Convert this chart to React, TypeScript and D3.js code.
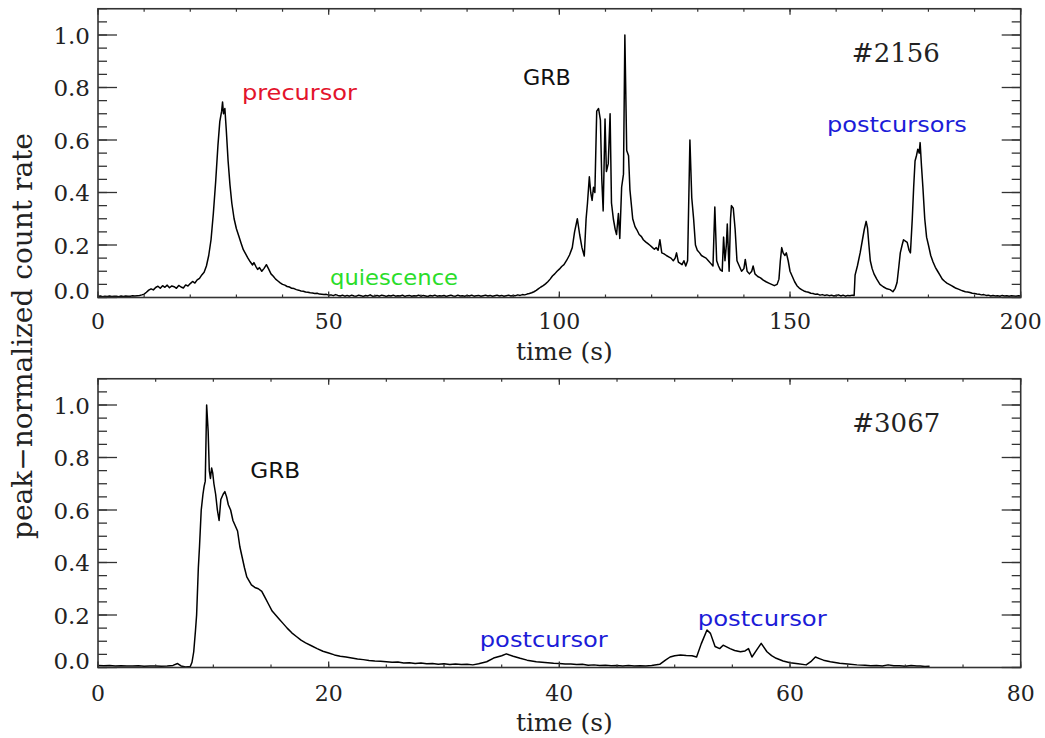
import React from "react";
import * as d3 from "d3";

// ---- Data: GRB #2156 (time s, peak-normalized count rate) ----
const burst2156: [number, number][] = [
  [0,0.004],[0.5,0.006],[1,0.003],[1.5,0.005],[2,0.004],[2.5,0.006],[3,0.004],[3.5,0.005],[4,0.005],[4.5,0.003],
  [5,0.006],[5.5,0.004],[6,0.006],[6.5,0.005],[7,0.005],[7.5,0.007],[8,0.006],[8.5,0.007],[9,0.008],[9.5,0.01],
  [10,0.013],[10.5,0.02],[11,0.028],[11.5,0.033],[12,0.029],[12.5,0.038],[13,0.043],[13.5,0.035],[14,0.045],[14.5,0.039],
  [15,0.047],[15.5,0.037],[16,0.044],[16.5,0.041],[17,0.035],[17.5,0.046],[18,0.04],[18.5,0.036],[19,0.048],[19.5,0.044],
  [20,0.053],[20.5,0.061],[21,0.055],[21.5,0.067],[22,0.073],[22.5,0.086],[23,0.096],[23.5,0.12],[24,0.16],[24.5,0.22],
  [25,0.32],[25.5,0.44],[26,0.58],[26.4,0.67],[26.8,0.71],[27,0.745],[27.2,0.7],[27.5,0.72],[27.8,0.64],[28.2,0.52],
  [28.6,0.43],[29,0.36],[29.5,0.3],[30,0.262],[30.5,0.235],[31,0.208],[31.5,0.182],[32,0.166],[32.5,0.15],[33,0.136],
  [33.5,0.124],[33.8,0.133],[34.2,0.119],[34.6,0.107],[35,0.114],[35.5,0.1],[36,0.111],[36.5,0.125],[37,0.108],[37.5,0.09],
  [38,0.081],[38.5,0.07],[39,0.063],[39.5,0.056],[40,0.05],[40.5,0.047],[41,0.042],[41.5,0.04],[42,0.035],[42.5,0.034],
  [43,0.03],[43.5,0.028],[44,0.025],[44.5,0.024],[45,0.021],[45.5,0.02],[46,0.018],[46.5,0.017],[47,0.015],[47.5,0.016],
  [48,0.013],[48.5,0.012],[49,0.011],[49.5,0.012],[50,0.009],[50.5,0.01],[51,0.007],[51.5,0.011],[52,0.008],[52.5,0.006],
  [53,0.009],[53.5,0.005],[54,0.008],[54.5,0.005],[55,0.009],[55.5,0.006],[56,0.005],[56.5,0.009],[57,0.007],[57.5,0.004],
  [58,0.008],[58.5,0.006],[59,0.01],[59.5,0.005],[60,0.006],[60.5,0.008],[61,0.005],[61.5,0.009],[62,0.007],[62.5,0.004],
  [63,0.008],[63.5,0.006],[64,0.009],[64.5,0.005],[65,0.007],[65.5,0.006],[66,0.009],[66.5,0.004],[67,0.007],[67.5,0.008],
  [68,0.005],[68.5,0.007],[69,0.006],[69.5,0.009],[70,0.005],[70.5,0.008],[71,0.006],[71.5,0.004],[72,0.008],[72.5,0.006],
  [73,0.009],[73.5,0.005],[74,0.007],[74.5,0.006],[75,0.008],[75.5,0.004],[76,0.007],[76.5,0.009],[77,0.006],[77.5,0.005],
  [78,0.009],[78.5,0.006],[79,0.007],[79.5,0.005],[80,0.008],[80.5,0.006],[81,0.009],[81.5,0.005],[82,0.007],[82.5,0.008],
  [83,0.005],[83.5,0.007],[84,0.009],[84.5,0.006],[85,0.008],[85.5,0.005],[86,0.007],[86.5,0.009],[87,0.006],[87.5,0.008],
  [88,0.005],[88.5,0.007],[89,0.009],[89.5,0.006],[90,0.008],[90.5,0.007],[91,0.01],[91.5,0.008],[92,0.011],[92.5,0.01],
  [93,0.013],[93.5,0.015],[94,0.018],[94.5,0.022],[95,0.027],[95.5,0.034],[96,0.04],[96.5,0.045],[97,0.052],[97.5,0.06],
  [98,0.07],[98.5,0.082],[99,0.09],[99.5,0.1],[100,0.108],[100.5,0.118],[101,0.125],[101.6,0.142],[102.2,0.162],[102.8,0.19],
  [103.3,0.25],[103.9,0.3],[104.4,0.24],[104.9,0.19],[105.4,0.158],[105.8,0.3],[106.1,0.36],[106.5,0.46],[106.8,0.4],[107.1,0.37],
  [107.4,0.42],[107.7,0.4],[108.1,0.71],[108.5,0.72],[108.9,0.676],[109.2,0.45],[109.5,0.33],[109.9,0.68],[110.2,0.48],[110.6,0.51],
  [111,0.7],[111.3,0.36],[111.7,0.3],[112.1,0.26],[112.4,0.24],[112.8,0.32],[113.1,0.225],[113.5,0.42],[113.9,0.47],[114.2,1.0],
  [114.6,0.56],[115,0.54],[115.3,0.41],[115.9,0.3],[116.4,0.27],[116.8,0.258],[117.3,0.24],[117.8,0.232],[118.2,0.22],[118.7,0.212],
  [119.2,0.205],[119.7,0.198],[120.2,0.19],[120.6,0.184],[121,0.19],[121.4,0.18],[121.8,0.22],[122.2,0.17],[122.7,0.166],[123.2,0.16],
  [123.7,0.155],[124.2,0.15],[124.7,0.14],[125.1,0.15],[125.4,0.17],[125.8,0.135],[126.2,0.13],[126.6,0.125],[127,0.14],[127.4,0.12],
  [127.8,0.14],[128.3,0.6],[128.7,0.38],[129.1,0.3],[129.5,0.2],[129.9,0.18],[130.4,0.17],[130.8,0.16],[131.3,0.155],[131.8,0.15],
  [132.3,0.14],[132.8,0.13],[133.3,0.12],[133.7,0.345],[134.1,0.14],[134.5,0.12],[134.9,0.105],[135.3,0.1],[135.6,0.23],[135.9,0.14],
  [136.2,0.2],[136.4,0.28],[136.8,0.1],[137.1,0.3],[137.3,0.35],[137.7,0.34],[138.1,0.26],[138.5,0.14],[139,0.12],[139.5,0.1],
  [140,0.11],[140.3,0.145],[140.7,0.1],[141.2,0.09],[141.7,0.1],[142,0.12],[142.4,0.09],[143,0.08],[143.6,0.075],[144.2,0.066],
  [144.8,0.06],[145.4,0.055],[146,0.05],[146.6,0.045],[147.2,0.05],[147.6,0.07],[147.9,0.14],[148.2,0.19],[148.5,0.17],[148.9,0.16],
  [149.2,0.17],[149.6,0.14],[150,0.1],[150.5,0.08],[151,0.06],[151.5,0.045],[152,0.036],[152.5,0.03],[153,0.025],[153.5,0.022],
  [154,0.02],[154.5,0.016],[155,0.015],[155.5,0.012],[156,0.013],[156.5,0.009],[157,0.011],[157.5,0.008],[158,0.01],[158.5,0.007],
  [159,0.009],[159.5,0.006],[160,0.008],[160.5,0.01],[161,0.006],[161.5,0.009],[162,0.005],[162.5,0.008],[163,0.007],[163.5,0.009],
  [163.9,0.008],[164.1,0.085],[164.6,0.12],[165.2,0.17],[165.7,0.22],[166.1,0.26],[166.5,0.29],[166.8,0.264],[167.1,0.2],[167.4,0.14],
  [167.8,0.11],[168.2,0.09],[168.8,0.07],[169.5,0.05],[170.2,0.041],[171,0.033],[171.7,0.03],[172.3,0.022],[172.8,0.035],[173.2,0.057],
  [173.6,0.12],[173.9,0.17],[174.3,0.2],[174.6,0.22],[175,0.215],[175.4,0.21],[175.8,0.18],[176.1,0.17],[176.5,0.3],[176.8,0.42],
  [177.1,0.52],[177.4,0.54],[177.7,0.565],[178,0.55],[178.2,0.59],[178.5,0.5],[178.8,0.42],[179.2,0.3],[179.6,0.23],[180,0.2],
  [180.5,0.16],[181,0.135],[181.5,0.115],[182,0.1],[182.5,0.085],[183,0.07],[183.5,0.062],[184,0.055],[184.5,0.05],[185,0.045],
  [185.5,0.04],[186,0.035],[186.5,0.032],[187,0.028],[187.5,0.025],[188,0.022],[188.5,0.021],[189,0.019],[189.5,0.016],[190,0.015],
  [190.5,0.013],[191,0.012],[191.5,0.01],[192,0.011],[192.5,0.008],[193,0.009],[193.5,0.006],[194,0.008],[194.5,0.006],[195,0.007],
  [195.5,0.005],[196,0.008],[196.5,0.006],[197,0.007],[197.5,0.005],[198,0.007],[198.5,0.006],[199,0.005],[199.5,0.007],[200,0.006],
];

// ---- Data: GRB #3067 ----
const burst3067: [number, number][] = [
  [0,0.008],[0.5,0.007],[1,0.008],[1.5,0.006],[2,0.007],[2.5,0.006],[3,0.006],[3.5,0.007],[4,0.005],[4.5,0.006],
  [5,0.006],[5.5,0.005],[6,0.006],[6.5,0.008],[6.9,0.015],[7.2,0.006],[7.6,0.002],[8,0.004],[8.15,0.02],[8.3,0.06],
  [8.45,0.14],[8.55,0.2],[8.7,0.38],[8.8,0.46],[8.95,0.6],[9.1,0.66],[9.2,0.69],[9.3,0.71],[9.42,1.0],[9.55,0.9],
  [9.65,0.75],[9.75,0.72],[9.85,0.76],[9.95,0.74],[10.05,0.7],[10.2,0.66],[10.35,0.6],[10.5,0.56],[10.65,0.64],[10.85,0.66],
  [11,0.67],[11.15,0.65],[11.3,0.62],[11.5,0.6],[11.7,0.56],[11.9,0.54],[12.1,0.52],[12.3,0.46],[12.5,0.42],[12.7,0.38],
  [12.9,0.345],[13.1,0.33],[13.3,0.315],[13.6,0.305],[13.9,0.3],[14.2,0.29],[14.5,0.265],[14.8,0.24],[15.1,0.215],[15.4,0.2],
  [15.7,0.185],[16,0.17],[16.4,0.15],[16.8,0.132],[17.2,0.118],[17.6,0.104],[18,0.094],[18.5,0.083],[19,0.072],[19.5,0.062],
  [20,0.055],[20.5,0.048],[21,0.043],[21.5,0.04],[22,0.036],[22.5,0.032],[23,0.03],[23.5,0.027],[24,0.025],[24.5,0.024],
  [25,0.022],[25.5,0.02],[26,0.021],[26.5,0.017],[27,0.018],[27.5,0.015],[28,0.017],[28.5,0.014],[29,0.015],[29.5,0.012],
  [30,0.014],[30.5,0.011],[31,0.013],[31.5,0.011],[32,0.012],[32.5,0.01],[33,0.014],[33.7,0.022],[34.3,0.036],[35,0.045],
  [35.4,0.052],[36,0.043],[36.6,0.035],[37.2,0.028],[38,0.022],[38.5,0.02],[39,0.018],[39.5,0.016],[40,0.015],[40.5,0.013],
  [41,0.013],[41.5,0.011],[42,0.012],[42.5,0.009],[43,0.01],[43.5,0.008],[44,0.009],[44.5,0.007],[45,0.008],[45.5,0.006],
  [46,0.008],[46.5,0.006],[47,0.007],[47.5,0.006],[48,0.008],[48.7,0.012],[49.2,0.028],[49.6,0.04],[50,0.045],[50.5,0.048],
  [51,0.046],[51.5,0.045],[51.9,0.04],[52.3,0.09],[52.8,0.143],[53.1,0.13],[53.5,0.08],[53.9,0.072],[54.2,0.085],[54.8,0.072],
  [55.2,0.065],[55.7,0.06],[56.1,0.063],[56.4,0.072],[56.7,0.04],[57.1,0.066],[57.5,0.092],[58,0.06],[58.4,0.045],[58.8,0.035],
  [59.4,0.025],[60,0.018],[60.7,0.014],[61.4,0.01],[61.8,0.022],[62.2,0.04],[62.6,0.033],[62.9,0.028],[63.5,0.022],[64.3,0.016],
  [65,0.013],[65.8,0.01],[66.5,0.009],[67,0.007],[67.5,0.008],[68,0.006],[68.5,0.01],[69,0.007],[69.5,0.007],[70,0.005],
  [70.5,0.008],[71,0.006],[71.3,0.006],[71.7,0.004],[72.1,0.005],
];

// ---- Axis ticks ----
const yMajorTicks = [0, 0.2, 0.4, 0.6, 0.8, 1.0];
const topXMajor = [0, 50, 100, 150, 200];
const bottomXMajor = [0, 20, 40, 60, 80];

// ---- Annotations (data coordinates) ----
type Note = { text: string; color: string; t: number; v: number; kind: "hand" | "id"; len?: number };
const topNotes: Note[] = [
  { text: "precursor", color: "#e3132b", t: 31.2, v: 0.752, kind: "hand", len: 115 },
  { text: "quiescence", color: "#2add2a", t: 50.3, v: 0.048, kind: "hand", len: 128 },
  { text: "GRB", color: "#111111", t: 92.1, v: 0.81, kind: "hand", len: 48 },
  { text: "postcursors", color: "#1c1cd8", t: 158.0, v: 0.63, kind: "hand", len: 140 },
  { text: "#2156", color: "#222222", t: 163.4, v: 0.897, kind: "id" },
];
const bottomNotes: Note[] = [
  { text: "GRB", color: "#111111", t: 13.2, v: 0.722, kind: "hand", len: 50 },
  { text: "postcursor", color: "#1c1cd8", t: 33.1, v: 0.078, kind: "hand", len: 128 },
  { text: "postcursor", color: "#1c1cd8", t: 52.0, v: 0.158, kind: "hand", len: 129 },
  { text: "#3067", color: "#222222", t: 65.4, v: 0.897, kind: "id" },
];

const SERIF = "'DejaVu Serif', 'Liberation Serif', serif";
const HAND = "'DejaVu Sans', 'Noto Sans', sans-serif";
const AXIS = "#333";

type PanelProps = {
  data: [number, number][];
  xMax: number;
  xMajor: number[];
  xMinorStep: number;
  top: number;
  bottom: number;
  tickBaseline: number;
  titleBaseline: number;
  notes: Note[];
};

function Panel({ data, xMax, xMajor, xMinorStep, top, bottom, tickBaseline, titleBaseline, notes }: PanelProps) {
  const left = 98;
  const right = 1020.7;
  const x = d3.scaleLinear().domain([0, xMax]).range([left, right]);
  const y = d3.scaleLinear().domain([0, 1.1]).range([bottom, top]);
  const line = d3.line<[number, number]>().x((d) => x(d[0])).y((d) => y(d[1]));
  const xMinor = d3.range(0, xMax + 1e-9, xMinorStep);
  const yMinor = d3.range(0, 1.1 + 1e-9, 0.05);

  return (
    <g>
      {/* data */}
      <path d={line(data) || ""} fill="none" stroke="#000" strokeWidth={1.5} strokeLinejoin="round" />
      {/* frame */}
      <rect x={left} y={top} width={right - left} height={bottom - top} fill="none" stroke={AXIS} strokeWidth={1.6} />
      {/* y ticks */}
      {yMinor.map((v, i) => (
        <g key={"ym" + i}>
          <line x1={left} x2={left + 9} y1={y(v)} y2={y(v)} stroke={AXIS} strokeWidth={1.3} />
          <line x1={right} x2={right - 9} y1={y(v)} y2={y(v)} stroke={AXIS} strokeWidth={1.3} />
        </g>
      ))}
      {yMajorTicks.map((v) => (
        <g key={"yM" + v}>
          <line x1={left} x2={left + 19} y1={y(v)} y2={y(v)} stroke={AXIS} strokeWidth={1.3} />
          <line x1={right} x2={right - 19} y1={y(v)} y2={y(v)} stroke={AXIS} strokeWidth={1.3} />
          <text
            x={90}
            y={Math.min(y(v), bottom - 7.5) + 8.5}
            textAnchor="end"
            fontFamily={SERIF}
            fontSize={23}
            fill="#222"
          >
            {d3.format(".1f")(v)}
          </text>
        </g>
      ))}
      {/* x ticks */}
      {xMinor.map((t, i) => (
        <g key={"xm" + i}>
          <line x1={x(t)} x2={x(t)} y1={bottom} y2={bottom - 3} stroke={AXIS} strokeWidth={1.2} />
          <line x1={x(t)} x2={x(t)} y1={top} y2={top + 3} stroke={AXIS} strokeWidth={1.2} />
        </g>
      ))}
      {xMajor.map((t) => (
        <g key={"xM" + t}>
          <line x1={x(t)} x2={x(t)} y1={bottom} y2={bottom - 6} stroke={AXIS} strokeWidth={1.3} />
          <line x1={x(t)} x2={x(t)} y1={top} y2={top + 6} stroke={AXIS} strokeWidth={1.3} />
          <text x={x(t)} y={tickBaseline} textAnchor="middle" fontFamily={SERIF} fontSize={22} fill="#222">
            {t}
          </text>
        </g>
      ))}
      <text x={(left + right) / 2 + 5} y={titleBaseline} textAnchor="middle" fontFamily={SERIF} fontSize={25} fill="#222">
        time (s)
      </text>
      {/* annotations */}
      {notes.map((n, i) =>
        n.kind === "id" ? (
          <text key={"n" + i} x={x(n.t)} y={y(n.v)} fontFamily={SERIF} fontSize={26} fill={n.color}>
            {n.text}
          </text>
        ) : (
          <text
            key={"n" + i}
            x={x(n.t)}
            y={y(n.v)}
            fontFamily={HAND}
            fontSize={21}
            fill={n.color}
            textLength={n.len}
            lengthAdjust="spacingAndGlyphs"
          >
            {n.text}
          </text>
        )
      )}
    </g>
  );
}

export default function App() {
  return (
    <div style={{ position: "absolute", left: 0, top: 0 }}>
      <svg width={1045} height={738} style={{ display: "block", background: "#fff" }}>
        <Panel
          data={burst2156}
          xMax={200}
          xMajor={topXMajor}
          xMinorStep={10}
          top={8.75}
          bottom={297.5}
          tickBaseline={329}
          titleBaseline={360}
          notes={topNotes}
        />
        <Panel
          data={burst3067}
          xMax={80}
          xMajor={bottomXMajor}
          xMinorStep={5}
          top={378.75}
          bottom={667.5}
          tickBaseline={701}
          titleBaseline={731}
          notes={bottomNotes}
        />
        <text
          transform="translate(32,336) rotate(-90)"
          textAnchor="middle"
          fontFamily={SERIF}
          fontSize={28}
          fill="#222"
        >
          peak−normalized count rate
        </text>
      </svg>
    </div>
  );
}
